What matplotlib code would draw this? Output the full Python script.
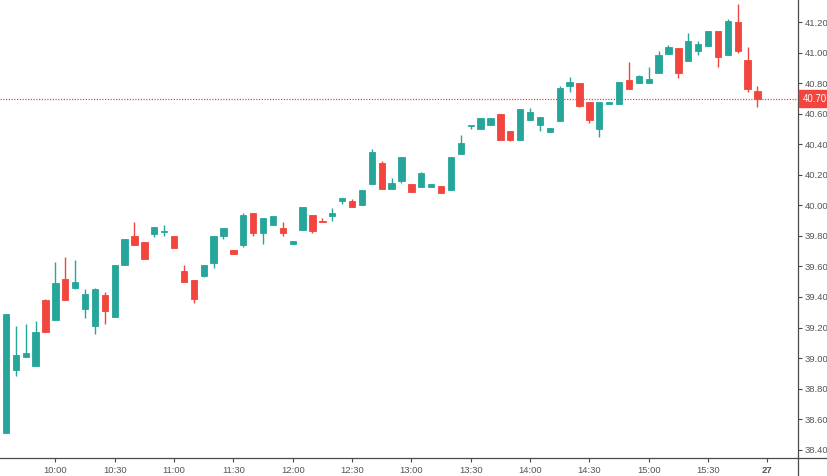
import numpy as np
import matplotlib
matplotlib.use("Agg")
from matplotlib import pyplot as plt
from matplotlib.lines import Line2D

# 5-minute candles, 9:35 .. 15:55
opens = [38.51, 38.92, 39.01, 38.95, 39.38, 39.25, 39.52, 39.46, 39.32, 39.21,
         39.41, 39.27, 39.61, 39.80, 39.76, 39.81, 39.825, 39.80, 39.57, 39.51,
         39.54, 39.62, 39.80, 39.71, 39.74, 39.95, 39.82, 39.87, 39.85, 39.75,
         39.84, 39.94, 39.90, 39.93, 40.03, 40.03, 40.00, 40.14, 40.28, 40.11,
         40.16, 40.14, 40.12, 40.12, 40.13, 40.10, 40.34, 40.52, 40.50, 40.53,
         40.60, 40.49, 40.43, 40.56, 40.53, 40.48, 40.55, 40.785, 40.80, 40.68,
         40.50, 40.665, 40.665, 40.82, 40.80, 40.80, 40.87, 40.995, 41.03, 40.945,
         41.015, 41.045, 41.14, 40.985, 41.20, 40.955, 40.75]
highs = [39.29, 39.21, 39.22, 39.24, 39.39, 39.63, 39.66, 39.64, 39.45, 39.46,
         39.43, 39.61, 39.78, 39.89, 39.76, 39.86, 39.87, 39.80, 39.61, 39.51,
         39.61, 39.80, 39.85, 39.71, 39.95, 39.95, 39.92, 39.93, 39.89, 39.77,
         39.99, 39.94, 39.92, 39.98, 40.05, 40.04, 40.10, 40.37, 40.29, 40.18,
         40.32, 40.14, 40.22, 40.14, 40.13, 40.32, 40.46, 40.53, 40.57, 40.57,
         40.60, 40.49, 40.63, 40.64, 40.58, 40.51, 40.78, 40.84, 40.80, 40.68,
         40.68, 40.68, 40.81, 40.94, 40.855, 40.91, 41.01, 41.05, 41.03, 41.13,
         41.08, 41.14, 41.14, 41.22, 41.32, 41.035, 40.78]
lows = [38.51, 38.88, 39.01, 38.95, 39.17, 39.25, 39.38, 39.45, 39.26, 39.16,
        39.22, 39.27, 39.61, 39.74, 39.65, 39.79, 39.80, 39.72, 39.50, 39.36,
        39.53, 39.59, 39.78, 39.68, 39.73, 39.80, 39.75, 39.87, 39.80, 39.75,
        39.84, 39.82, 39.89, 39.90, 40.01, 39.99, 40.00, 40.14, 40.11, 40.11,
        40.15, 40.09, 40.12, 40.12, 40.08, 40.10, 40.34, 40.50, 40.50, 40.53,
        40.43, 40.42, 40.43, 40.56, 40.49, 40.48, 40.55, 40.745, 40.645, 40.54,
        40.45, 40.665, 40.665, 40.765, 40.80, 40.80, 40.87, 40.995, 40.835, 40.945,
        40.985, 41.045, 40.91, 40.985, 41.00, 40.745, 40.645]
closes = [39.29, 39.02, 39.03, 39.17, 39.17, 39.49, 39.38, 39.50, 39.42, 39.45,
          39.31, 39.61, 39.78, 39.74, 39.65, 39.86, 39.83, 39.72, 39.50, 39.39,
          39.61, 39.80, 39.85, 39.68, 39.94, 39.82, 39.92, 39.93, 39.82, 39.77,
          39.99, 39.83, 39.89, 39.95, 40.05, 39.99, 40.10, 40.35, 40.11, 40.15,
          40.32, 40.09, 40.21, 40.14, 40.08, 40.32, 40.41, 40.53, 40.57, 40.57,
          40.43, 40.43, 40.63, 40.61, 40.58, 40.51, 40.77, 40.81, 40.65, 40.56,
          40.68, 40.68, 40.81, 40.765, 40.845, 40.83, 40.985, 41.04, 40.87, 41.08,
          41.06, 41.14, 40.975, 41.21, 41.015, 40.76, 40.70]

last_price = 40.70
tick_idx = [5, 11, 17, 23, 29, 35, 41, 47, 53, 59, 65, 71, 77]
tick_labels = ["10:00", "10:30", "11:00", "11:30", "12:00", "12:30", "13:00",
               "13:30", "14:00", "14:30", "15:00", "15:30", "27"]
price_ticks = [38.40, 38.60, 38.80, 39.00, 39.20, 39.40, 39.60, 39.80, 40.00,
               40.20, 40.40, 40.60, 40.80, 41.00, 41.20]

GREEN = "#26a69a"
RED = "#f2453d"
AXIS = "#4a4a4a"
TXT = "#555555"

plt.rcParams['font.family'] = ['Liberation Sans', 'DejaVu Sans']

fig = plt.figure(figsize=(8.28, 4.76), dpi=100)
ax = fig.add_axes([0.0, 18 / 476, 798 / 828, 458 / 476])

o = np.array(opens)
h = np.array(highs)
l = np.array(lows)
c = np.array(closes)
x = np.arange(len(o))
up = c >= o
cols = np.where(up, GREEN, RED)

# wicks
ax.vlines(x, l, h, colors=cols, linewidth=1.0, zorder=2)
# bodies (min height about one pixel so dojis show)
body_lo = np.minimum(o, c)
body_h = np.maximum(np.abs(c - o), 0.008)
ax.bar(x, body_h, bottom=body_lo, width=0.64, color=cols, edgecolor=cols,
       linewidth=0.6, zorder=3)

# last price line
ax.axhline(last_price, color=RED, linestyle=(0, (1, 1.2)), linewidth=0.9, zorder=1)

ax.set_xlim(-0.6, 80.1)
ax.set_ylim(38.345, 41.346)

ax.yaxis.tick_right()
ax.set_yticks(price_ticks)
ax.set_yticklabels([f"{p:.2f}" for p in price_ticks])
ax.set_xticks(tick_idx)
ax.set_xticklabels(tick_labels)
for lab in ax.get_xticklabels():
    if lab.get_text() == "27":
        lab.set_fontweight("bold")

ax.tick_params(axis='both', colors=AXIS, labelcolor=TXT, labelsize=6.8,
               length=3, width=0.8)
ax.tick_params(axis='y', pad=2)
ax.tick_params(axis='x', pad=3)

for side in ["top", "left"]:
    ax.spines[side].set_visible(False)
for side in ["right", "bottom"]:
    ax.spines[side].set_color(AXIS)
    ax.spines[side].set_linewidth(0.9)

# axis lines continue across the scale corners
fig.add_artist(Line2D([798 / 828, 1.0], [18 / 476, 18 / 476], color=AXIS,
                      linewidth=0.9, transform=fig.transFigure))
fig.add_artist(Line2D([798 / 828, 798 / 828], [0, 18 / 476], color=AXIS,
                      linewidth=0.9, transform=fig.transFigure))

# price tag on the scale
ax.annotate(f"{last_price:.2f}", xy=(1.0, last_price), xycoords=ax.get_yaxis_transform(),
            xytext=(3.5, 0), textcoords="offset points",
            ha="left", va="center", fontsize=7, color="white", annotation_clip=False,
            bbox=dict(boxstyle="square,pad=0.4", facecolor=RED, edgecolor=RED),
            zorder=5)

fig.savefig("out.png", dpi=100, facecolor="white")
